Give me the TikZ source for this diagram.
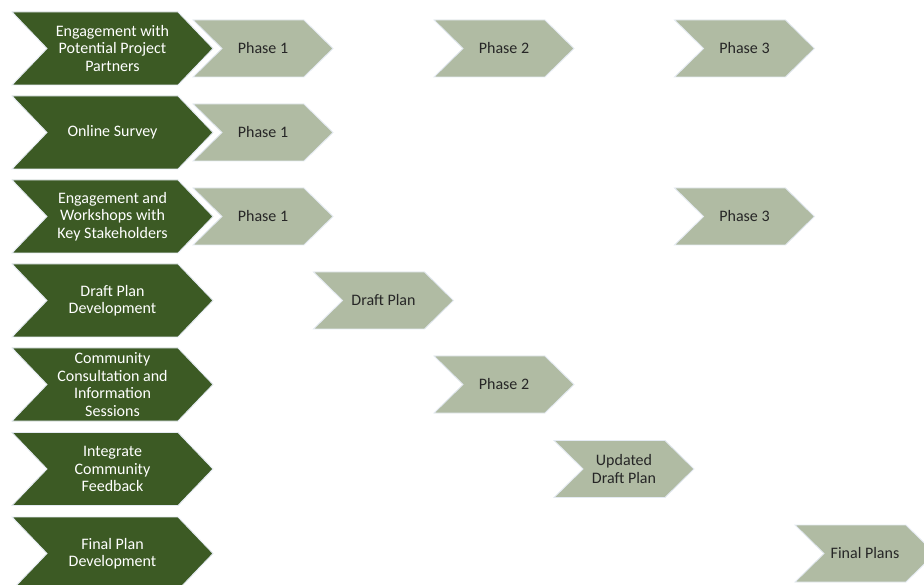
\documentclass[tikz,border=0pt]{standalone}
\usepackage{fontspec}
\setmainfont{Carlito}
\definecolor{darkgreen}{HTML}{3C5A24}
\definecolor{lightsage}{HTML}{B0BBA3}
\definecolor{edgecol}{HTML}{E4EAF2}
\definecolor{txtdark}{HTML}{262626}
\tikzset{
  darkfill/.style={fill=darkgreen,draw=edgecol,line width=0.9pt,line join=miter},
  lightfill/.style={fill=lightsage,draw=edgecol,line width=0.9pt,line join=miter},
  darktext/.style={text=white,align=center,inner sep=0pt,font=\fontsize{16}{17.5}\selectfont},
  lighttext/.style={text=txtdark,align=center,inner sep=0pt,font=\fontsize{16}{17.5}\selectfont}
}
\newcommand\darkchev[3]{%
  \filldraw[darkfill] (12,#2-36.5) -- (178,#2-36.5) -- (213,#2) -- (178,#2+36.5) -- (12,#2+36.5) -- (47,#2) -- cycle;
  \node[darktext] (#1) at (112.5,#2) {#3};}
\newcommand\lightchev[4]{%
  \filldraw[lightfill] (#2,#3-28.5) -- (#2+111,#3-28.5) -- (#2+140,#3) -- (#2+111,#3+28.5) -- (#2,#3+28.5) -- (#2+29,#3) -- cycle;
  \node[lighttext] (#1) at (#2+70,#3) {#4};}
\begin{document}
\begin{tikzpicture}[x=1pt,y=-1pt]
\useasboundingbox (0,0) rectangle (924,585);
\begin{scope}
\clip (0,0) rectangle (924,585);
% light chevrons
\lightchev{p1a}{193}{48.5}{Phase 1}
\lightchev{p2a}{434}{48.5}{Phase 2}
\lightchev{p3a}{674.5}{48.5}{Phase 3}
\lightchev{p1b}{193}{132.5}{Phase 1}
\lightchev{p1c}{193}{216.5}{Phase 1}
\lightchev{p3c}{674.5}{216.5}{Phase 3}
\lightchev{dp}{313.5}{300.5}{Draft Plan}
\lightchev{p2e}{434}{384.5}{Phase 2}
\lightchev{udp}{554}{469}{Updated\\Draft Plan}
\lightchev{fp}{795}{553.5}{Final Plans}
% dark chevrons
\darkchev{r1}{48.5}{Engagement with\\Potential Project\\Partners}
\darkchev{r2}{132.5}{Online Survey}
\darkchev{r3}{216.5}{Engagement and\\Workshops with\\Key Stakeholders}
\darkchev{r4}{300.5}{Draft Plan\\Development}
\darkchev{r5}{384.5}{Community\\Consultation and\\Information\\Sessions}
\darkchev{r6}{469}{Integrate\\Community\\Feedback}
\darkchev{r7}{553.5}{Final Plan\\Development}
\end{scope}
\end{tikzpicture}
\end{document}
